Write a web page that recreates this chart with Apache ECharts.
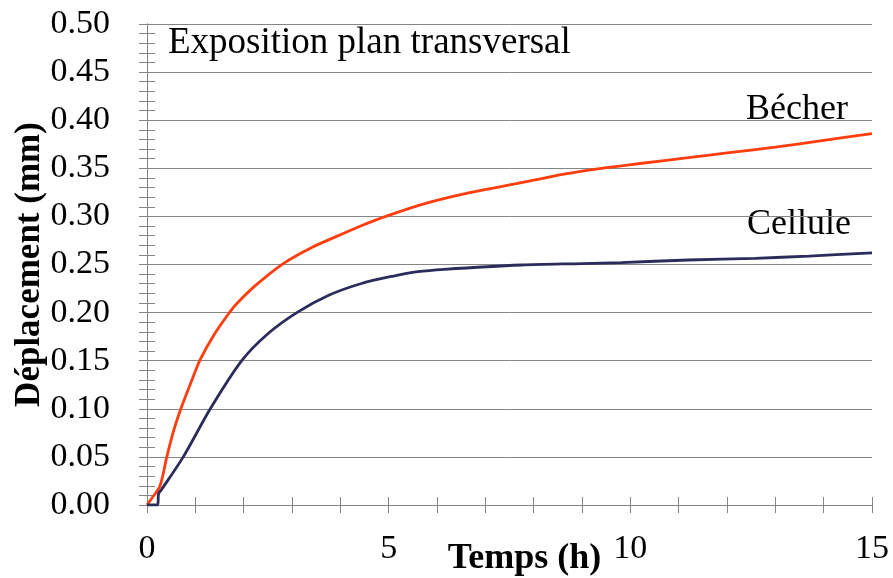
<!DOCTYPE html>
<html>
<head>
<meta charset="utf-8">
<script src="https://cdn.jsdelivr.net/npm/echarts@6/dist/echarts.min.js"></script>
<style>
  html, body { margin: 0; padding: 0; background: #fff; }
  #chart { width: 893px; height: 578px; }
</style>
</head>
<body>
<div id="chart"></div>
<script>
// données
var tempsBecher = [0, 0.1, 0.27, 0.41, 0.55, 0.7, 0.93, 1.1, 1.4, 1.72, 1.85, 2.24, 2.82, 3.42, 3.96, 4.42, 4.94, 5.8, 6.7, 7.74, 8.63, 9.4, 10.2, 11.2, 12.0, 13.0, 14.0, 15];
var deplBecher  = [0, 0.007, 0.02, 0.05, 0.077, 0.10, 0.13, 0.151, 0.178, 0.201, 0.209, 0.228, 0.251, 0.268, 0.280, 0.290, 0.300, 0.314, 0.325, 0.335, 0.344, 0.350, 0.355, 0.361, 0.366, 0.372, 0.379, 0.386];

var tempsCellule = [0, 0.22, 0.24, 0.3, 0.75, 1.31, 1.96, 2.5, 3.1, 3.76, 4.42, 5.1, 5.6, 6.15, 7.74, 9.0, 9.81, 11.2, 12.58, 13.7, 15];
var deplCellule  = [0, 0, 0.012, 0.016, 0.05, 0.10, 0.15, 0.178, 0.20, 0.218, 0.230, 0.238, 0.2425, 0.245, 0.2495, 0.251, 0.252, 0.2547, 0.2564, 0.2588, 0.262];

var xTicks = [0, 5, 10, 15];

var serif = '"Liberation Serif", "Times New Roman", serif';
var gris = '#858585';

function paires(xs, ys) {
	var out = [];
	for (var i = 0; i < xs.length; i++) out.push([xs[i], ys[i]]);
	return out;
}

var chart = echarts.init(document.getElementById('chart'));

var axeX = {
	type: 'value', min: 0, max: 15, interval: 5,
	axisLine: { lineStyle: { color: gris, width: 1 } },
	axisTick: { inside: true, length: 8, lineStyle: { color: gris } },
	minorTick: { show: true, splitNumber: 5, length: 8, lineStyle: { color: gris } },
	splitLine: { show: false }
};
var axeY = {
	type: 'value', min: 0, max: 0.5, interval: 0.05,
	axisLine: { show: true, lineStyle: { color: gris, width: 1 } },
	axisTick: { show: true, inside: true, length: 8, lineStyle: { color: gris } },
	minorTick: { show: true, splitNumber: 5, length: 8, lineStyle: { color: gris } },
	splitLine: { show: false }
};

chart.setOption({
	animation: false,
	grid: { left: 147, right: 21, top: 24, bottom: 73, outerBoundsMode: 'none', containLabel: false },
	xAxis: [
		echarts.util.merge({
			position: 'bottom',
			name: 'Temps (h)', nameLocation: 'middle', nameGap: 36, nameMoveOverlap: false,
			nameTextStyle: { fontFamily: serif, fontSize: 36, fontWeight: 'bold', color: '#000', padding: [0, 0, 0, 30] },
			axisLabel: {
				fontFamily: serif, fontSize: 34, color: '#000', margin: 27,
				formatter: function (v) { return xTicks.indexOf(v) >= 0 ? String(v) : ''; }
			}
		}, axeX, true),
		echarts.util.merge({ position: 'top', axisLabel: { show: false } }, axeX, true)
	],
	yAxis: [
		echarts.util.merge({
			position: 'left',
			name: 'Déplacement (mm)', nameLocation: 'middle', nameGap: 100, nameRotate: 90, nameMoveOverlap: false,
			nameTextStyle: { fontFamily: serif, fontSize: 35, fontWeight: 'bold', color: '#000' },
			splitLine: { show: true, lineStyle: { color: gris, width: 1 } },
			axisLabel: {
				fontFamily: serif, fontSize: 34, color: '#000', margin: 37,
				formatter: function (v) { return v.toFixed(2); }
			}
		}, axeY, false),
		echarts.util.merge({ position: 'right', axisLabel: { show: false } }, axeY, true)
	],
	series: [
		{
			name: 'Bécher', type: 'line', xAxisIndex: 0, yAxisIndex: 0,
			data: paires(tempsBecher, deplBecher),
			showSymbol: false, smooth: 0.3,
			lineStyle: { color: '#ff3d0d', width: 2.8 }
		},
		{
			name: 'Cellule', type: 'line', xAxisIndex: 0, yAxisIndex: 0,
			data: paires(tempsCellule, deplCellule),
			showSymbol: false, smooth: 0.3,
			lineStyle: { color: '#2b2b5c', width: 2.8 }
		}
	],
	graphic: [
		{ type: 'text', left: 168, top: 25, style: { text: 'Exposition plan transversal', font: '37px ' + serif, fill: '#000' } },
		{ type: 'text', left: 746, top: 92, style: { text: 'Bécher', font: '36px ' + serif, fill: '#000' } },
		{ type: 'text', left: 747, top: 207, style: { text: 'Cellule', font: '36px ' + serif, fill: '#000' } }
	]
});
</script>
</body>
</html>
